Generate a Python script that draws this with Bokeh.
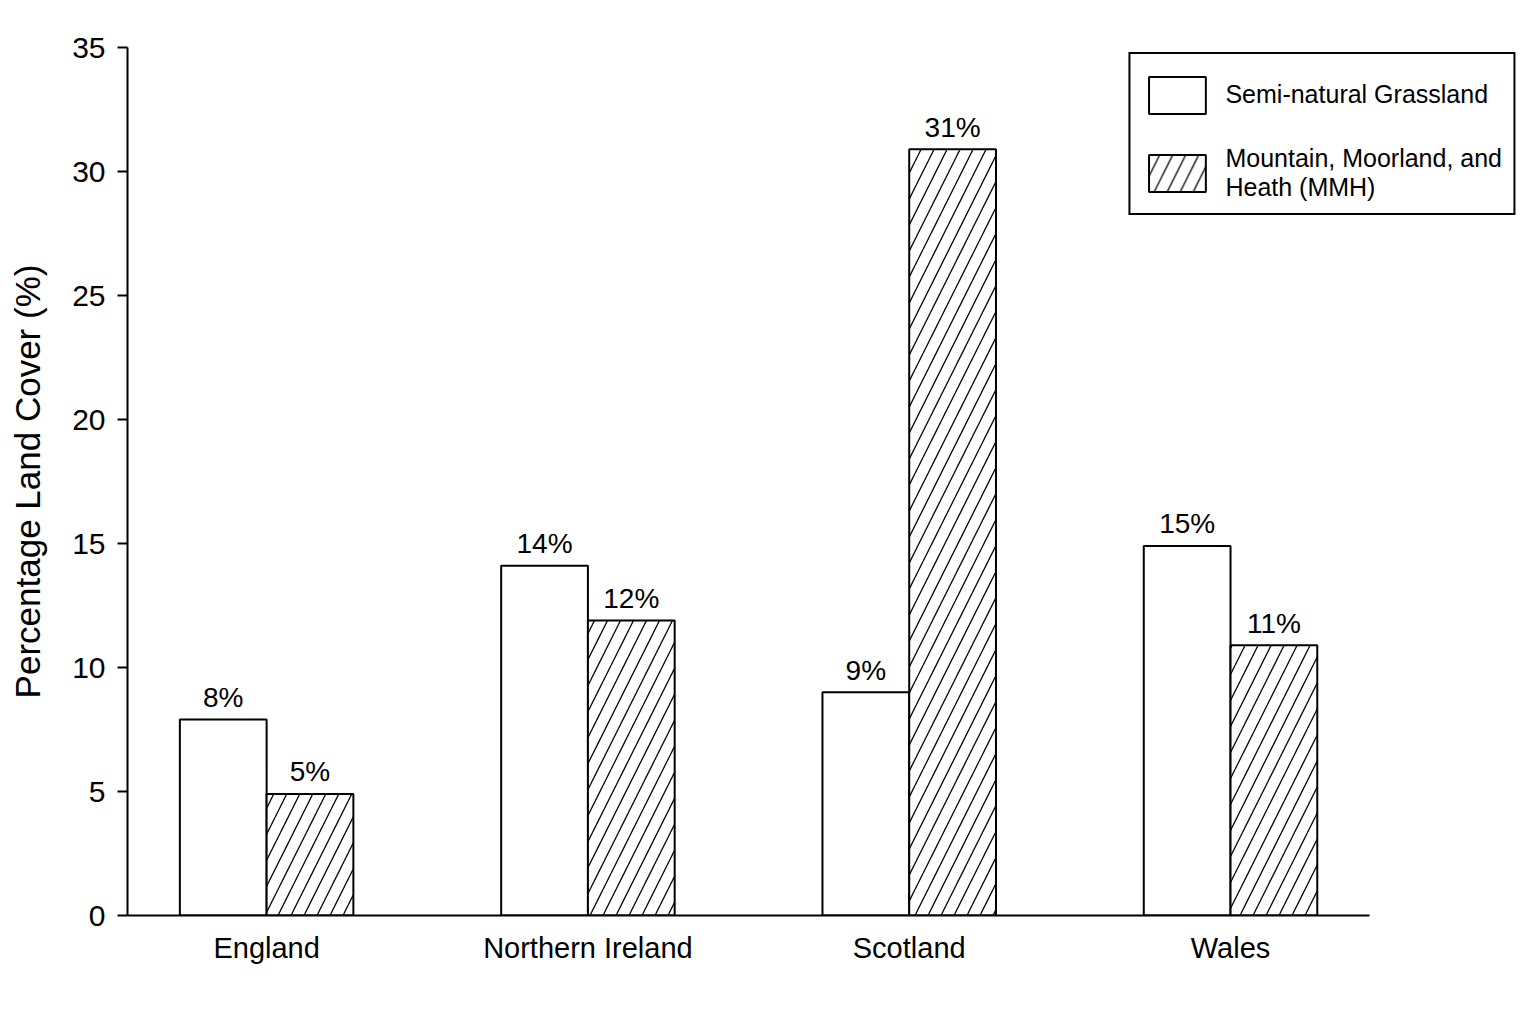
import numpy as np
from bokeh.plotting import figure
from bokeh.models import Range1d, FixedTicker, ColumnDataSource, Legend, LegendItem
from bokeh.embed import file_html
from bokeh.resources import INLINE

categories = ["England", "Northern Ireland", "Scotland", "Wales"]
grassland = [7.9, 14.1, 9.0, 14.9]
mmh = [4.9, 11.9, 30.9, 10.9]
y_ticks = [0, 5, 10, 15, 20, 25, 30, 35]
series_names = ["Semi-natural Grassland", "Mountain, Moorland, and\nHeath (MMH)"]

FONT = "Liberation Sans"
bar_w = 0.27
x = np.arange(len(categories))

src_g = ColumnDataSource(dict(x=x - bar_w / 2, top=grassland,
                              lab=[f"{round(v)}%" for v in grassland]))
src_m = ColumnDataSource(dict(x=x + bar_w / 2, top=mmh,
                              lab=[f"{round(v)}%" for v in mmh]))

p = figure(frame_width=1393, frame_height=868, output_backend="svg", toolbar_location=None,
           x_range=Range1d(-0.433, 3.9025), y_range=Range1d(0, 35),
           min_border_left=127, min_border_top=47, min_border_bottom=85,
           min_border_right=6)
p.outline_line_color = None
p.grid.visible = False
p.background_fill_color = "white"

r_g = p.vbar(x="x", top="top", bottom=0, width=bar_w, source=src_g,
             fill_color="white", line_color="black", line_width=2)
r_m = p.vbar(x="x", top="top", bottom=0, width=bar_w, source=src_m,
             fill_color="white", line_color="black", line_width=2,
             hatch_pattern="/", hatch_color="black", hatch_weight=1.3, hatch_scale=26)

for src in (src_g, src_m):
    p.text(x="x", y="top", text="lab", source=src, text_align="center",
           text_baseline="alphabetic", y_offset=-22, text_font_size="28px",
           text_font={"value": FONT}, text_color="black")

# axes
xa = p.xaxis[0]
xa.ticker = FixedTicker(ticks=list(x))
xa.major_label_overrides = {int(i): c for i, c in zip(x, categories)}
xa.major_tick_out = 0
xa.major_tick_in = 0
xa.minor_tick_line_color = None
xa.axis_line_width = 2
xa.bounds = (-0.433, 3.433)
xa.major_label_text_font = FONT
xa.major_label_text_font_size = "29px"
xa.major_label_text_color = "black"
xa.major_label_standoff = 16

ya = p.yaxis[0]
ya.ticker = FixedTicker(ticks=y_ticks)
ya.major_tick_out = 10
ya.major_tick_in = 0
ya.major_tick_line_width = 2
ya.minor_tick_line_color = None
ya.axis_line_width = 2
ya.major_label_text_font = FONT
ya.major_label_text_font_size = "30px"
ya.major_label_text_color = "black"
ya.major_label_standoff = 12
ya.axis_label = "Percentage Land Cover (%)"
ya.axis_label_text_font = FONT
ya.axis_label_text_font_size = "35px"
ya.axis_label_text_font_style = "normal"
ya.axis_label_text_color = "black"
ya.axis_label_standoff = 22

legend = Legend(items=[LegendItem(label=series_names[0], renderers=[r_g]),
                       LegendItem(label=series_names[1], renderers=[r_m])],
                location="top_right", margin=5, padding=11, spacing=19,
                glyph_width=71, glyph_height=46, label_standoff=13, label_height=59,
                label_text_font=FONT, label_text_font_size="25px",
                label_text_color="black",
                border_line_color="black", border_line_width=2, border_line_alpha=1.0,
                background_fill_color="white", background_fill_alpha=1.0)
p.add_layout(legend)

open("out.html", "w").write(file_html(p, INLINE))
